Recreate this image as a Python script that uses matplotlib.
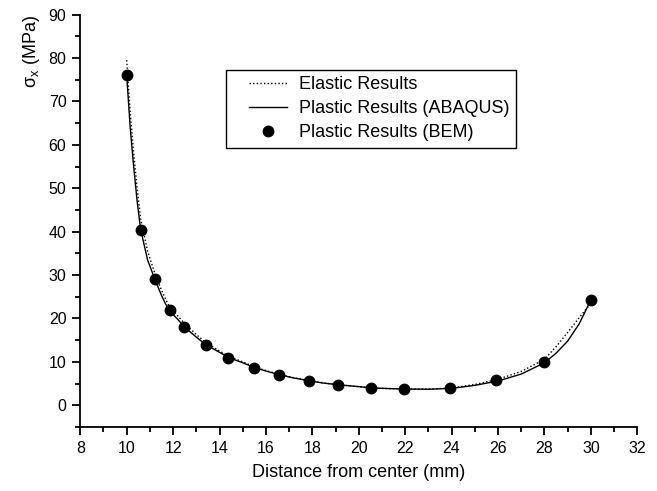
import matplotlib
matplotlib.use("Agg")
import matplotlib.pyplot as plt
from matplotlib.patches import Rectangle
from matplotlib.ticker import MultipleLocator

plt.rcParams["font.family"] = ["Liberation Sans", "DejaVu Sans"]
plt.rcParams["mathtext.fontset"] = "custom"
plt.rcParams["mathtext.rm"] = "Liberation Sans"
plt.rcParams["mathtext.it"] = "Liberation Sans:italic"

# ---------------------------------------------------------------------------
# Data
# ---------------------------------------------------------------------------
x_curve = [10, 10.15, 10.3, 10.45, 10.6, 10.9, 11.2, 11.5, 11.8, 12.2, 12.5,
           13, 13.4, 14, 14.4, 15, 15.5, 16, 16.6, 17.2, 17.9, 18.5, 19.2, 20,
           20.6, 21.3, 22, 23, 24, 25, 26, 27, 28, 28.5, 29, 29.5, 30]
elastic = [79.5, 67.5, 58, 50, 43, 35.5, 30.6, 26.5, 23.1, 20.6, 18.8,
           16.3, 14.5, 12.5, 11.3, 10.0, 8.9, 8.0, 7.1, 6.35, 5.65, 5.15, 4.7,
           4.3, 4.0, 3.85, 3.75, 3.75, 4.0, 4.8, 6.0, 7.8, 10.6, 13.5, 16.8,
           20.2, 23.5]
plastic_abaqus = [76, 64, 55, 47, 40.5, 33.5, 29.2, 25.3, 22, 19.8, 18,
                  15.7, 14, 12.2, 11, 9.8, 8.7, 7.9, 7.0, 6.3, 5.6, 5.1, 4.7,
                  4.3, 4.0, 3.85, 3.75, 3.7, 3.9, 4.6, 5.6, 7.2, 9.8, 12.0,
                  14.8, 18.8, 24.3]

x_bem = [10, 10.6, 11.23, 11.85, 12.49, 13.42, 14.36, 15.47, 16.57, 17.84,
         19.1, 20.53, 21.93, 23.92, 25.9, 28, 30]
plastic_bem = [76, 40.4, 29.1, 21.9, 18.0, 13.8, 10.9, 8.6, 6.9, 5.6,
               4.6, 4.0, 3.8, 4.1, 5.8, 9.9, 24.2]


fig = plt.figure(figsize=(6.57, 4.91), dpi=100)
ax = fig.add_axes([0.1222, 0.1303, 0.8478, 0.840])

ax.plot(x_curve, elastic, color="black", ls=(0, (1, 1.6)), lw=1.0,
        label="Elastic Results")
ax.plot(x_curve, plastic_abaqus, color="black", ls="-", lw=1.0,
        label="Plastic Results (ABAQUS)")
ax.plot(x_bem, plastic_bem, "o", color="black", ms=7.5, ls="none",
        label="Plastic Results (BEM)")

ax.set_xlim(8, 32)
ax.set_ylim(-5, 90)
ax.xaxis.set_major_locator(MultipleLocator(2))
ax.xaxis.set_minor_locator(MultipleLocator(1))
ax.yaxis.set_major_locator(MultipleLocator(10))
ax.yaxis.set_minor_locator(MultipleLocator(5))

for side in ("top", "right"):
    ax.spines[side].set_visible(False)
for side in ("left", "bottom"):
    ax.spines[side].set_linewidth(1.3)
ax.tick_params(which="major", direction="out", length=6, width=1.3,
               labelsize=11.5, pad=4)
ax.tick_params(which="minor", direction="out", length=3.5, width=1.3)

ax.set_xlabel("Distance from center (mm)", fontsize=13, labelpad=6)
ax.set_ylabel(r"σ$_\mathrm{x}$ (MPa)", fontsize=13, labelpad=5, loc="top")

# legend without its own frame; the box is drawn with extra room on the left
leg = ax.legend(loc="upper left", bbox_to_anchor=(0.291, 0.866),
                borderaxespad=0, fontsize=13, frameon=False,
                handlelength=2.1, handletextpad=0.7, labelspacing=0.39,
                borderpad=0.36)

fig.canvas.draw()
bb = leg.get_window_extent()
frame = Rectangle((bb.x0 - 16, bb.y0), bb.width + 16, bb.height,
                  transform=None, fill=False, edgecolor="black", lw=1.0,
                  zorder=leg.get_zorder())
fig.add_artist(frame)

fig.savefig("out.png", dpi=100)
